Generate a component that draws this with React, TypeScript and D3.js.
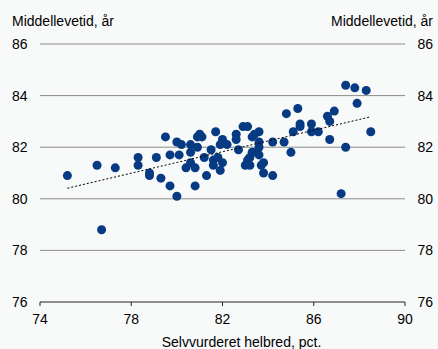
import React from "react";
import * as d3 from "d3";

const healthPct = [
  75.2, 76.5, 76.7, 77.3, 78.3, 78.3, 78.8, 78.8, 79.1, 79.3, 79.5, 79.7, 79.7, 80.0, 80.0, 80.1, 80.2, 80.4, 80.6, 80.6,
  80.6, 80.8, 80.8, 80.9, 81.0, 81.1, 80.9, 81.2, 81.3, 81.5, 81.7, 81.6, 81.6, 81.8, 81.9, 82.0, 82.0, 81.9, 82.2, 82.6,
  82.6, 82.7, 82.9, 83.1, 83.0, 83.1, 83.2, 83.2, 83.3, 83.3, 83.4, 83.5, 83.6, 83.6, 83.6, 83.6, 83.7, 83.8, 83.8, 84.2,
  84.2, 84.7, 84.8, 85.0, 85.1, 85.3, 85.4, 85.4, 85.9, 85.9, 86.2, 86.6, 86.7, 86.7, 86.9, 87.2, 87.4, 87.4, 87.8, 87.9,
  88.3, 88.5,
];
const lifeExpectancy = [
  80.9, 81.3, 78.8, 81.2, 81.6, 81.3, 81.0, 80.9, 81.6, 80.8, 82.4, 80.5, 81.7, 80.1, 82.2, 81.7, 82.1, 81.2, 81.8, 82.1,
  81.4, 80.5, 81.2, 82.4, 82.5, 82.4, 82.0, 81.6, 80.9, 81.9, 82.6, 81.5, 81.3, 81.6, 81.1, 82.3, 81.4, 82.1, 82.1, 82.5,
  82.3, 81.9, 82.8, 82.8, 81.3, 81.5, 81.6, 81.3, 82.4, 81.8, 82.5, 81.8, 82.2, 82.0, 82.6, 81.7, 81.3, 81.4, 81.0, 82.2,
  80.9, 82.2, 83.3, 81.8, 82.6, 83.5, 82.9, 82.8, 82.9, 82.6, 82.6, 83.2, 83.0, 82.3, 83.4, 80.2, 84.4, 82.0, 84.3, 83.7,
  84.2, 82.6,
];
const xTicks = [74, 78, 82, 86, 90];
const yTicks = [76, 78, 80, 82, 84, 86];
const yAxisTitle = "Middellevetid, år";
const xAxisTitle = "Selvvurderet helbred, pct.";

export default function App() {
  const W = 438;
  const H = 349;
  const x = d3.scaleLinear().domain([74, 90]).range([40, 405]);
  const y = d3.scaleLinear().domain([76, 86]).range([302, 44]);
  const pts = healthPct.map((v, i) => [v, lifeExpectancy[i]] as [number, number]);

  // least-squares trend line
  const mx = d3.mean(healthPct)!;
  const my = d3.mean(lifeExpectancy)!;
  let sxy = 0, sxx = 0;
  pts.forEach(([a, b]) => { sxy += (a - mx) * (b - my); sxx += (a - mx) * (a - mx); });
  const slope = sxy / sxx;
  const icpt = my - slope * mx;
  const [x0, x1] = d3.extent(healthPct) as [number, number];
  const trend = d3.line<number>().x((v) => x(v)).y((v) => y(icpt + slope * v))([x0, x1]);

  const font = "'Liberation Sans', Arial, sans-serif";
  const fs = 14;
  return (
    <svg width={W} height={H} style={{ position: "absolute", left: 0, top: 0 }} fontFamily={font}>
      <rect width={W} height={H} fill="#f8f9f9" />
      <text x={12} y={25.5} fontSize={fs} fill="#000">{yAxisTitle}</text>
      <text x={433} y={25.5} fontSize={fs} fill="#000" textAnchor="end">{yAxisTitle}</text>
      {yTicks.map((t) => (
        <g key={t}>
          <line x1={40} x2={405} y1={y(t)} y2={y(t)} stroke={t === 76 ? "#222" : "#8c8c8c"} strokeWidth={1} />
          <text x={12} y={y(t)} dy="0.35em" fontSize={fs}>{t}</text>
          <text x={433} y={y(t)} dy="0.35em" fontSize={fs} textAnchor="end">{t}</text>
        </g>
      ))}
      {xTicks.map((t) => (
        <g key={t}>
          <line x1={x(t)} x2={x(t)} y1={302} y2={306} stroke="#222" />
          <text x={x(t)} y={323.5} fontSize={fs} textAnchor="middle">{t}</text>
        </g>
      ))}
      <text x={241.5} y={347} fontSize={fs} textAnchor="middle">{xAxisTitle}</text>
      {pts.map(([a, b], i) => (
        <circle key={i} cx={x(a)} cy={y(b)} r={4.5} fill="#063a82" />
      ))}
      <path d={trend || ""} fill="none" stroke="#000" strokeWidth={1} strokeDasharray="2,2" />
    </svg>
  );
}
